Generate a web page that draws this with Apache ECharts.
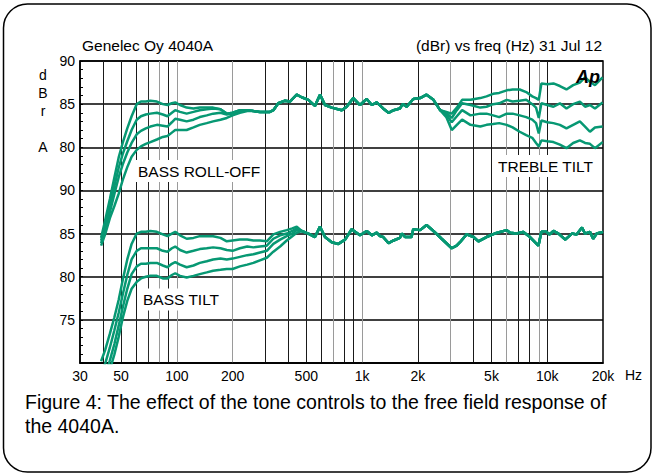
<!DOCTYPE html>
<html>
<head>
<meta charset="utf-8">
<title>Genelec Oy 4040A - tone controls</title>
<script src="https://cdn.jsdelivr.net/npm/echarts@6.0.0/dist/echarts.min.js"></script>
<style>
  html, body { margin: 0; padding: 0; background: #fff; }
  #chart { width: 653px; height: 474px; }
</style>
</head>
<body>
<div id="chart"></div>
<script>
// x axis (Hz, log)
const xTickFreqs = [30, 50, 100, 200, 500, 1000, 2000, 5000, 10000, 20000]
const xTickLabels = ['30', '50', '100', '200', '500', '1k', '2k', '5k', '10k', '20k']
const xGridFreqs = [40, 50, 60, 70, 80, 90, 100, 200, 300, 400, 500, 600, 700, 800, 900,
  1000, 2000, 3000, 4000, 5000, 6000, 7000, 8000, 9000, 10000]

// y axis: upper block is read directly, lower block is shifted down by 15 dB
const yTickValues = [55, 60, 65, 70, 75, 80, 85, 90]
const yTickLabels = ['', '75', '80', '85', '90', '80', '85', '90']
const LOWER_OFFSET = 15

// upper block: bass roll-off + treble tilt
const bassFreqUpper = [39, 41, 43.5, 46, 48.5, 51, 54, 57, 60.7, 64, 68, 72, 78, 84, 89, 94, 98, 104, 113, 123,
  133, 145, 157, 172, 186, 200, 219, 240, 259, 281]
const rollOff1 = [69.5, 71.5, 74.0, 76.5, 78.8, 80.5, 82.2, 83.6, 85.0, 85.3, 85.3, 85.4, 85.3, 85.0, 84.9, 85.1, 85.2, 84.9, 84.6, 84.5,
  84.6, 84.6, 84.6, 84.4, 83.9, 84.0, 84.3, 84.3, 84.2, 84.1]
const rollOff2 = [69.2, 70.9, 73.2, 75.5, 77.6, 79.2, 80.7, 82.0, 83.2, 83.6, 83.8, 83.9, 84.0, 83.8, 83.6, 84.0, 84.3, 84.1, 83.9, 84.1,
  84.3, 84.4, 84.5, 84.4, 83.9, 84.0, 84.3, 84.3, 84.2, 84.1]
const rollOff3 = [68.9, 70.4, 72.5, 74.6, 76.5, 78.0, 79.4, 80.5, 81.5, 81.9, 82.2, 82.4, 82.6, 82.5, 82.4, 82.9, 83.3, 83.2, 83.0, 83.2,
  83.5, 83.7, 83.9, 84.0, 83.8, 83.9, 84.2, 84.3, 84.2, 84.1]
const rollOff4 = [68.6, 69.9, 71.8, 73.2, 74.6, 76.2, 77.7, 78.9, 79.7, 80.1, 80.4, 80.6, 80.9, 81.2, 81.3, 81.7, 82.0, 82.0, 82.0, 82.3,
  82.6, 82.8, 83.0, 83.2, 83.4, 83.7, 84.0, 84.2, 84.2, 84.1]

const midFreqUpper = [318, 332, 353, 384, 408, 444, 472, 513, 557, 593, 631, 686, 777, 826, 897, 975, 1060, 1130, 1200, 1300,
  1390, 1480, 1600, 1660, 1743, 1890, 2060, 2230, 2430, 2640]
const midUpper = [84.1, 84.3, 85.1, 85.4, 85.3, 86.1, 85.8, 85.5, 84.8, 86.1, 84.9, 84.6, 84.3, 84.7, 85.7, 84.9, 85.6, 84.9, 85.2, 84.5,
  84.0, 84.3, 84.5, 85.0, 84.7, 85.6, 85.7, 86.1, 85.5, 84.3]

const trebleFreq = [2850, 3050, 3250, 3470, 3850, 4350, 4700, 5100, 5500, 6040, 6500, 7100, 7700, 8300, 8700, 9000, 9300, 10000,
  10800, 11700, 12700, 13800, 15000, 16000, 17000, 18100, 19900]
const tilt1 = [84.1, 83.9, 84.6, 85.5, 85.5, 85.7, 85.9, 86.2, 86.3, 86.6, 86.7, 86.7, 86.4, 85.9, 85.7, 85.5, 87.4, 87.3,
  87.4, 87.1, 86.7, 87.2, 87.5, 88.1, 87.6, 87.2, 88.1]
const tilt2 = [84.0, 83.4, 84.3, 85.1, 84.9, 84.6, 84.7, 85.0, 85.1, 85.5, 85.3, 85.4, 85.5, 85.0, 84.6, 83.4, 85.1, 84.9,
  84.7, 85.1, 84.5, 85.0, 85.3, 84.7, 84.9, 84.5, 85.2]
const tilt3 = [83.8, 82.9, 83.6, 84.3, 83.7, 83.9, 83.9, 83.7, 83.5, 83.9, 83.9, 83.7, 83.5, 83.2, 82.8, 81.6, 83.1, 82.9,
  82.8, 82.6, 82.2, 82.6, 83.0, 82.4, 81.8, 82.3, 82.4]
const tilt4 = [83.5, 82.0, 82.6, 83.2, 82.6, 82.4, 82.6, 82.7, 82.8, 82.6, 82.3, 81.8, 81.4, 81.1, 80.5, 80.1, 80.8, 80.7,
  80.6, 80.3, 79.9, 80.5, 80.8, 80.5, 80.4, 79.9, 80.6]

// lower block: bass tilt
const bassFreqLower = [39, 41, 43.5, 46, 48.5, 51, 54, 57, 60.7, 64, 68, 72, 78, 84, 89, 94, 98, 104, 113, 123,
  133, 145, 157, 172, 186, 200, 219, 240, 259, 281, 306, 332, 361, 392, 420, 444]
const bassTilt1 = [70.2, 71.5, 73.4, 75.3, 77.3, 79.6, 82.0, 83.8, 85.0, 85.2, 85.2, 85.3, 85.2, 84.9, 84.7, 85.0, 85.2, 84.8, 84.4, 84.5,
  84.7, 84.7, 84.7, 84.5, 84.1, 84.2, 84.3, 84.3, 84.2, 84.2, 84.1, 84.9, 85.2, 85.4, 85.6, 85.8]
const bassTilt2 = [69.0, 69.9, 71.8, 73.8, 75.8, 77.9, 80.2, 82.0, 83.0, 83.3, 83.3, 83.3, 83.3, 83.0, 82.9, 83.3, 83.5, 83.1, 82.8, 83.0,
  83.2, 83.3, 83.4, 83.3, 83.1, 83.0, 83.3, 83.5, 83.4, 83.5, 83.6, 84.4, 84.8, 85.0, 85.3, 85.6]
const bassTilt3 = [68.0, 68.6, 70.3, 72.2, 74.3, 76.4, 78.6, 80.3, 81.2, 81.5, 81.5, 81.6, 81.6, 81.3, 81.1, 81.5, 81.7, 81.4, 81.1, 81.3,
  81.6, 81.8, 82.0, 82.1, 82.0, 82.1, 82.3, 82.5, 82.6, 82.8, 83.0, 83.8, 84.3, 84.7, 85.0, 85.4]
const bassTilt4 = [67.0, 67.9, 69.2, 71.0, 73.0, 75.2, 77.2, 78.6, 79.4, 79.8, 80.0, 80.1, 80.1, 79.8, 79.8, 80.2, 80.4, 80.1, 79.9, 80.1,
  80.3, 80.5, 80.7, 80.8, 80.9, 80.9, 81.2, 81.4, 81.6, 81.9, 82.2, 82.9, 83.5, 84.2, 84.7, 85.1]

const midFreqLower = [472, 513, 557, 593, 631, 686, 745, 810, 879, 975, 1060, 1130, 1200, 1250, 1300, 1390, 1480, 1600, 1640, 1710,
  1850, 1890, 2060, 2230, 2430, 2690, 3050, 3240, 3380, 3670, 4000, 4250, 4700, 5200, 6040, 6300, 6840, 7400, 8070, 8960,
  9300, 9900, 10300, 10800, 11500, 12500, 13600, 14400, 15400, 16000, 17000, 17700, 18500, 20000]
const midLower = [85.3, 85.0, 84.6, 85.8, 84.6, 84.0, 83.8, 84.3, 85.5, 84.8, 85.3, 84.8, 85.1, 84.7, 84.6, 83.9, 84.2, 84.5, 85.0, 84.6,
  84.6, 85.5, 85.4, 86.0, 85.3, 84.4, 83.3, 83.6, 84.0, 84.9, 84.6, 84.1, 84.6, 85.0, 85.4, 85.1, 85.0, 85.2, 84.6, 83.6,
  85.2, 85.2, 84.9, 85.3, 85.0, 84.3, 85.0, 84.9, 85.7, 85.0, 85.2, 84.4, 85.0, 85.2]

const FONT = '"Liberation Sans", Arial, Helvetica, sans-serif'
const GREEN = '#079873'

function pairs(freqs, values, offset) {
  return freqs.map((f, i) => [Math.log10(f), values[i] - offset])
}

const upperFreq = bassFreqUpper.concat(midFreqUpper, trebleFreq)
const lowerFreq = bassFreqLower.concat(midFreqLower)
const curves = [
  pairs(upperFreq, rollOff1.concat(midUpper, tilt1), 0),
  pairs(upperFreq, rollOff2.concat(midUpper, tilt2), 0),
  pairs(upperFreq, rollOff3.concat(midUpper, tilt3), 0),
  pairs(upperFreq, rollOff4.concat(midUpper, tilt4), 0),
  pairs(lowerFreq, bassTilt1.concat(midLower), LOWER_OFFSET),
  pairs(lowerFreq, bassTilt2.concat(midLower), LOWER_OFFSET),
  pairs(lowerFreq, bassTilt3.concat(midLower), LOWER_OFFSET),
  pairs(lowerFreq, bassTilt4.concat(midLower), LOWER_OFFSET)
]

const chart = echarts.init(document.getElementById('chart'), null, { renderer: 'svg' })

chart.setOption({
  animation: false,
  backgroundColor: '#fff',
  title: [
    {
      text: 'Genelec Oy 4040A',
      left: 82,
      top: 37,
      padding: 0,
      textStyle: { fontFamily: FONT, fontSize: 15.5, fontWeight: 'normal', color: '#000' }
    },
    {
      text: '(dBr) vs freq (Hz) 31 Jul 12',
      right: 51,
      top: 37,
      padding: 0,
      textStyle: { fontFamily: FONT, fontSize: 15.5, fontWeight: 'normal', color: '#000' }
    }
  ],
  grid: {
    left: 80,
    right: 50,
    top: 61,
    bottom: 111,
    show: true,
    borderColor: '#000',
    borderWidth: 1.5,
    backgroundColor: '#fff'
  },
  xAxis: {
    type: 'value',
    min: Math.log10(30),
    max: Math.log10(20000),
    name: 'Hz',
    nameLocation: 'end',
    nameGap: 22,
    nameTextStyle: { fontFamily: FONT, fontSize: 14, color: '#000', verticalAlign: 'top', padding: [5, 0, 0, 0] },
    axisLine: { show: true, lineStyle: { color: '#000', width: 1.5 } },
    axisTick: { show: false, customValues: xGridFreqs.map(f => Math.log10(f)) },
    axisLabel: {
      customValues: xTickFreqs.map(f => Math.log10(f)),
      margin: 6,
      fontFamily: FONT,
      fontSize: 14,
      color: '#000',
      formatter: function (val) {
        const i = xTickFreqs.findIndex(f => Math.abs(Math.log10(f) - val) < 1e-6)
        return i >= 0 ? xTickLabels[i] : ''
      }
    },
    splitLine: {
      show: true,
      lineStyle: {
        width: 1,
        color: ['#1a1a1a', '#1a1a1a', '#1a1a1a', '#2a2a2a', '#9a9a9a', '#1a1a1a', '#9a9a9a',
          '#9a9a9a', '#1a1a1a', '#1a1a1a', '#1a1a1a', '#1a1a1a', '#9a9a9a', '#1a1a1a', '#1a1a1a',
          '#9a9a9a', '#1a1a1a', '#9a9a9a', '#1a1a1a', '#1a1a1a', '#9a9a9a', '#1a1a1a', '#1a1a1a',
          '#9a9a9a', '#1a1a1a']
      }
    }
  },
  yAxis: {
    type: 'value',
    min: 55,
    max: 90,
    interval: 5,
    axisLine: { show: true, lineStyle: { color: '#000', width: 1.5 } },
    axisTick: { show: true, inside: true, length: 3, lineStyle: { color: '#000' } },
    minorTick: { show: true, splitNumber: 5, length: 3, lineStyle: { color: '#000', width: 1 } },
    axisLabel: {
      margin: 5,
      fontFamily: FONT,
      fontSize: 14,
      color: '#000',
      formatter: function (val) {
        const i = yTickValues.indexOf(Math.round(val))
        return i >= 0 ? yTickLabels[i] : ''
      }
    },
    splitLine: { show: true, lineStyle: { color: '#000', width: 1.5 } }
  },
  graphic: [
    {
      type: 'rect',
      silent: true,
      z: -10,
      shape: { x: 3.5, y: 4, width: 647.5, height: 468, r: 24 },
      style: { fill: 'none', stroke: '#000', lineWidth: 1.5 }
    },
    {
      type: 'text',
      x: 43,
      y: 66,
      style: { text: 'd\nB\nr\n\nA', font: '14px ' + FONT, fill: '#000', align: 'center', verticalAlign: 'top', lineHeight: 18 }
    },
    {
      type: 'text',
      x: 135,
      y: 171,
      z: 10,
      style: { text: 'BASS ROLL-OFF', font: '15.5px ' + FONT, fill: '#000', verticalAlign: 'middle',
        backgroundColor: '#fff', padding: [3, 3, 3, 3] }
    },
    {
      type: 'text',
      x: 495,
      y: 166,
      z: 10,
      style: { text: 'TREBLE TILT', font: '15.5px ' + FONT, fill: '#000', verticalAlign: 'middle',
        backgroundColor: '#fff', padding: [3, 3, 3, 3] }
    },
    {
      type: 'text',
      x: 140,
      y: 299.5,
      z: 10,
      style: { text: 'BASS TILT', font: '15.5px ' + FONT, fill: '#000', verticalAlign: 'middle',
        backgroundColor: '#fff', padding: [3, 3, 3, 3] }
    },
    {
      type: 'text',
      x: 576,
      y: 77,
      z: 10,
      style: { text: 'Ap', font: 'italic bold 18px ' + FONT, fill: '#000', verticalAlign: 'middle' }
    },
    {
      type: 'text',
      x: 25,
      y: 390,
      style: {
        text: 'Figure 4: The effect of the tone controls to the free field response of\nthe 4040A.',
        font: '19.5px ' + FONT,
        fill: '#000',
        verticalAlign: 'top',
        lineHeight: 24
      }
    }
  ],
  series: curves.map(data => ({
    type: 'line',
    data: data,
    showSymbol: false,
    symbol: 'none',
    clip: true,
    z: 3,
    lineStyle: { color: GREEN, width: 2.5 }
  }))
})
</script>
</body>
</html>
